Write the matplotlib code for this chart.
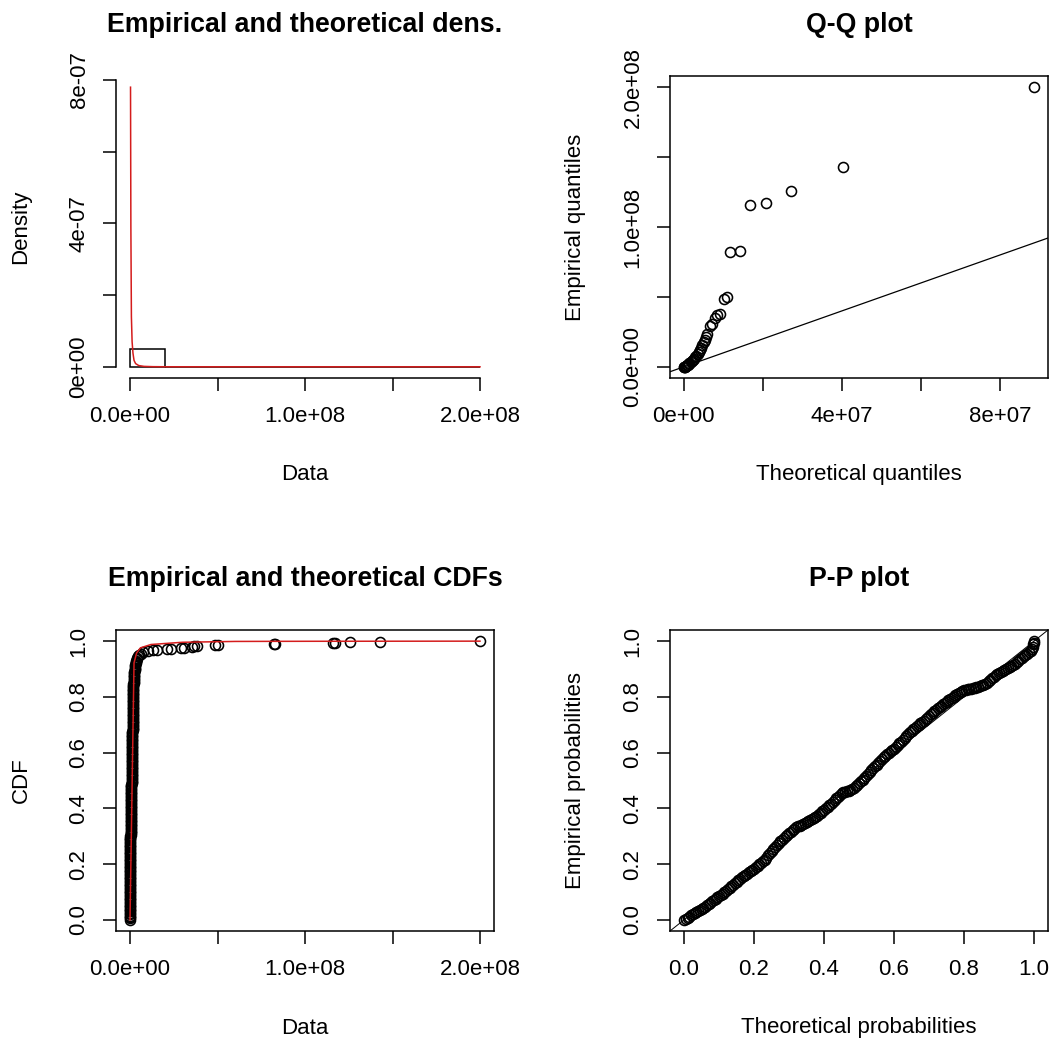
import numpy as np
import matplotlib
matplotlib.use("Agg")
import matplotlib.pyplot as plt

plt.rcParams['font.family'] = ['Liberation Sans', 'DejaVu Sans']

# ---------------- data ----------------
# histogram (density scale), bins of 2e7
hist_edges = [0, 2e7, 4e7, 6e7, 8e7, 1e8, 1.2e8, 1.4e8, 1.6e8, 1.8e8, 2e8]
hist_density = [4.85e-8, 6.7e-10, 1.9e-10, 0.0, 1.9e-10, 1.9e-10, 9.6e-11, 9.6e-11, 0.0, 9.6e-11]

# fitted density (red curve)
dens_x = [3e5, 5e5, 8e5, 1.2e6, 1.7e6, 2.3e6, 3.2e6, 5.0e6, 8e6, 1.3e7, 2e7, 5e7, 1e8, 2e8]
dens_y = [7.8e-7, 3.9e-7, 1.4e-7, 7e-8, 3.8e-8, 1.8e-8, 9e-9, 3.5e-9, 1.2e-9, 4e-10,
          1.5e-10, 2e-11, 3e-12, 5e-13]

# Q-Q plot: theoretical vs empirical quantiles
qq_theo = [8.86e7, 4.02e7, 2.72e7, 2.07e7, 1.67e7, 1.41e7, 1.18e7, 1.10e7, 1.01e7,
           0.91e7, 0.84e7, 0.78e7, 0.72e7, 0.66e7, 0.59e7, 0.57e7,
           0.53e7, 0.50e7, 0.47e7, 0.44e7, 0.41e7, 0.38e7, 0.35e7, 0.32e7, 0.29e7,
           0.26e7, 0.23e7, 0.20e7, 0.17e7, 0.14e7, 0.12e7, 0.10e7, 0.08e7, 0.06e7,
           0.045e7, 0.03e7, 0.02e7, 0.01e7, 0.005e7]
qq_emp = [2.0e8, 1.426e8, 1.258e8, 1.170e8, 1.158e8, 0.830e8, 0.823e8, 0.500e8, 0.488e8,
          0.380e8, 0.368e8, 0.352e8, 0.309e8, 0.289e8, 0.237e8, 0.213e8,
          0.19e8, 0.175e8, 0.155e8, 0.135e8, 0.12e8, 0.105e8, 0.092e8, 0.08e8, 0.068e8,
          0.058e8, 0.048e8, 0.04e8, 0.032e8, 0.025e8, 0.019e8, 0.014e8, 0.010e8, 0.006e8,
          0.004e8, 0.002e8, 0.001e8, 0.0005e8, 0.0002e8]

# empirical CDF points (x in millions)
ecdf_x_mln = [0.00, 0.01, 0.02, 0.02, 0.03, 0.04, 0.05, 0.05, 0.06, 0.07,
              0.08, 0.09, 0.10, 0.11, 0.12, 0.12, 0.13, 0.14, 0.16, 0.17,
              0.18, 0.19, 0.20, 0.21, 0.22, 0.23, 0.24, 0.25, 0.26, 0.27,
              0.28, 0.30, 0.33, 0.36, 0.40, 0.44, 0.48, 0.51, 0.54, 0.57,
              0.60, 0.63, 0.66, 0.69, 0.72, 0.75, 0.78, 0.81, 0.84, 0.87,
              0.90, 0.93, 0.96, 0.99, 1.02, 1.05, 1.08, 1.11, 1.14, 1.17,
              1.20, 1.23, 1.26, 1.29, 1.32, 1.35, 1.38, 1.41, 1.44, 1.47,
              1.50, 1.53, 1.56, 1.59, 1.62, 1.65, 1.68, 1.71, 1.74, 1.77,
              1.80, 1.84, 1.88, 1.92, 1.96, 2.00, 2.10, 2.20, 2.35, 2.50,
              2.70, 2.90, 3.20, 3.60, 4.20, 5.00, 6.0, 7.2,
              10.5, 12.9, 15.3, 21.3, 23.7, 28.9, 30.9, 35.2, 36.8, 38.0,
              48.8, 50.0, 82.3, 83.0, 115.8, 117.0, 125.8, 142.6, 200.0,
              # points between the ones above
              0.005, 0.015, 0.02, 0.025, 0.035, 0.045, 0.05, 0.055, 0.065, 0.075,
              0.085, 0.095, 0.105, 0.115, 0.12, 0.125, 0.135, 0.15, 0.165, 0.175,
              0.185, 0.195, 0.205, 0.215, 0.225, 0.235, 0.245, 0.255, 0.265, 0.275,
              0.29, 0.315, 0.345, 0.38, 0.42, 0.46, 0.495, 0.525, 0.555, 0.585,
              0.615, 0.645, 0.675, 0.705, 0.735, 0.765, 0.795, 0.825, 0.855, 0.885,
              0.915, 0.945, 0.975, 1.005, 1.035, 1.065, 1.095, 1.125, 1.155, 1.185,
              1.215, 1.245, 1.275, 1.305, 1.335, 1.365, 1.395, 1.425, 1.455, 1.485,
              1.515, 1.545, 1.575, 1.605, 1.635, 1.665, 1.695, 1.725, 1.755, 1.785,
              1.82, 1.86, 1.90, 1.94, 1.98, 2.05, 2.15, 2.28, 2.42, 2.60,
              2.80, 3.05, 3.40, 3.90, 4.60]
ecdf_p = [0.00, 0.01, 0.02, 0.03, 0.04, 0.05, 0.06, 0.07, 0.08, 0.09,
          0.10, 0.11, 0.12, 0.13, 0.14, 0.15, 0.16, 0.17, 0.18, 0.19,
          0.20, 0.21, 0.22, 0.23, 0.24, 0.25, 0.26, 0.27, 0.28, 0.29,
          0.30, 0.31, 0.32, 0.33, 0.34, 0.35, 0.36, 0.37, 0.38, 0.39,
          0.40, 0.41, 0.42, 0.43, 0.44, 0.45, 0.46, 0.47, 0.48, 0.49,
          0.50, 0.51, 0.52, 0.53, 0.54, 0.55, 0.56, 0.57, 0.58, 0.59,
          0.60, 0.61, 0.62, 0.63, 0.64, 0.65, 0.66, 0.67, 0.68, 0.69,
          0.70, 0.71, 0.72, 0.73, 0.74, 0.75, 0.76, 0.77, 0.78, 0.79,
          0.80, 0.81, 0.82, 0.83, 0.84, 0.85, 0.86, 0.87, 0.88, 0.89,
          0.90, 0.91, 0.92, 0.93, 0.94, 0.95, 0.955, 0.96,
          0.965, 0.967, 0.969, 0.971, 0.973, 0.975, 0.977, 0.979, 0.981, 0.983,
          0.985, 0.987, 0.988, 0.990, 0.992, 0.994, 0.996, 0.998, 1.000,
          0.005, 0.015, 0.025, 0.035, 0.045, 0.055, 0.065, 0.075, 0.085, 0.095,
          0.105, 0.115, 0.125, 0.135, 0.145, 0.155, 0.165, 0.175, 0.185, 0.195,
          0.205, 0.215, 0.225, 0.235, 0.245, 0.255, 0.265, 0.275, 0.285, 0.295,
          0.305, 0.315, 0.325, 0.335, 0.345, 0.355, 0.365, 0.375, 0.385, 0.395,
          0.405, 0.415, 0.425, 0.435, 0.445, 0.455, 0.465, 0.475, 0.485, 0.495,
          0.505, 0.515, 0.525, 0.535, 0.545, 0.555, 0.565, 0.575, 0.585, 0.595,
          0.605, 0.615, 0.625, 0.635, 0.645, 0.655, 0.665, 0.675, 0.685, 0.695,
          0.705, 0.715, 0.725, 0.735, 0.745, 0.755, 0.765, 0.775, 0.785, 0.795,
          0.805, 0.815, 0.825, 0.835, 0.845, 0.855, 0.865, 0.875, 0.885, 0.895,
          0.905, 0.915, 0.925, 0.935, 0.945]

# fitted CDF (red curve)
cdf_fit_x = [0, 2.3e6, 3.8e6, 6e6, 1.2e7, 3e7, 6e7, 1e8, 2e8]
cdf_fit_p = [0.0, 0.922, 0.958, 0.976, 0.988, 0.996, 0.999, 0.9995, 1.0]

# P-P plot
pp_theo = [0.00, 0.01, 0.02, 0.03, 0.04, 0.05, 0.06, 0.07, 0.08, 0.09,
           0.10, 0.11, 0.12, 0.13, 0.14, 0.15, 0.16, 0.17, 0.18, 0.19,
           0.20, 0.21, 0.22, 0.23, 0.24, 0.25, 0.26, 0.27, 0.28, 0.29,
           0.30, 0.31, 0.32, 0.33, 0.34, 0.35, 0.36, 0.37, 0.38, 0.39,
           0.40, 0.41, 0.42, 0.43, 0.44, 0.45, 0.46, 0.47, 0.48, 0.49,
           0.50, 0.51, 0.52, 0.53, 0.54, 0.55, 0.56, 0.57, 0.58, 0.59,
           0.60, 0.61, 0.62, 0.63, 0.64, 0.65, 0.66, 0.67, 0.68, 0.69,
           0.70, 0.71, 0.72, 0.73, 0.74, 0.75, 0.76, 0.77, 0.78, 0.79,
           0.80, 0.81, 0.82, 0.83, 0.84, 0.85, 0.86, 0.87, 0.88, 0.89,
           0.90, 0.91, 0.92, 0.93, 0.94, 0.95, 0.96, 0.97, 0.98, 0.99,
           0.995, 0.997, 0.998, 0.999, 1.0,
           0.005, 0.015, 0.025, 0.035, 0.045, 0.055, 0.065, 0.075, 0.085, 0.095,
           0.105, 0.115, 0.125, 0.135, 0.145, 0.155, 0.165, 0.175, 0.185, 0.195,
           0.205, 0.215, 0.225, 0.235, 0.245, 0.255, 0.265, 0.275, 0.285, 0.295,
           0.305, 0.315, 0.325, 0.335, 0.345, 0.355, 0.365, 0.375, 0.385, 0.395,
           0.405, 0.415, 0.425, 0.435, 0.445, 0.455, 0.465, 0.475, 0.485, 0.495,
           0.505, 0.515, 0.525, 0.535, 0.545, 0.555, 0.565, 0.575, 0.585, 0.595,
           0.605, 0.615, 0.625, 0.635, 0.645, 0.655, 0.665, 0.675, 0.685, 0.695,
           0.705, 0.715, 0.725, 0.735, 0.745, 0.755, 0.765, 0.775, 0.785, 0.795,
           0.805, 0.815, 0.825, 0.835, 0.845, 0.855, 0.865, 0.875, 0.885, 0.895,
           0.905, 0.915, 0.925, 0.935, 0.945, 0.955, 0.965, 0.975, 0.985]
pp_emp = [0.000, 0.008, 0.016, 0.024, 0.032, 0.040, 0.047, 0.057, 0.066, 0.076,
          0.085, 0.094, 0.104, 0.115, 0.126, 0.137, 0.148, 0.156, 0.165, 0.174,
          0.183, 0.193, 0.204, 0.215, 0.231, 0.246, 0.262, 0.275, 0.288, 0.300,
          0.311, 0.322, 0.332, 0.338, 0.344, 0.350, 0.358, 0.366, 0.374, 0.384,
          0.395, 0.406, 0.417, 0.429, 0.442, 0.455, 0.460, 0.463, 0.468, 0.479,
          0.491, 0.503, 0.516, 0.530, 0.544, 0.557, 0.570, 0.583, 0.595, 0.605,
          0.614, 0.626, 0.639, 0.653, 0.666, 0.679, 0.689, 0.700, 0.710, 0.720,
          0.731, 0.742, 0.753, 0.764, 0.774, 0.783, 0.792, 0.801, 0.809, 0.817,
          0.824, 0.828, 0.830, 0.832, 0.836, 0.841, 0.846, 0.856, 0.866, 0.877,
          0.886, 0.893, 0.900, 0.906, 0.914, 0.924, 0.935, 0.945, 0.955, 0.965,
          0.972, 0.980, 0.988, 0.994, 1.000,
          0.004, 0.012, 0.020, 0.028, 0.036, 0.044, 0.052, 0.062, 0.071, 0.081,
          0.090, 0.099, 0.110, 0.121, 0.132, 0.143, 0.152, 0.161, 0.170, 0.179,
          0.188, 0.199, 0.210, 0.223, 0.239, 0.254, 0.269, 0.282, 0.294, 0.306,
          0.317, 0.327, 0.335, 0.341, 0.347, 0.354, 0.362, 0.370, 0.379, 0.390,
          0.401, 0.412, 0.423, 0.436, 0.449, 0.458, 0.462, 0.466, 0.474, 0.485,
          0.497, 0.510, 0.523, 0.537, 0.551, 0.564, 0.577, 0.589, 0.600, 0.610,
          0.620, 0.633, 0.646, 0.660, 0.673, 0.684, 0.695, 0.705, 0.715, 0.726,
          0.737, 0.748, 0.759, 0.769, 0.779, 0.788, 0.797, 0.805, 0.813, 0.821,
          0.826, 0.829, 0.831, 0.834, 0.839, 0.844, 0.851, 0.861, 0.872, 0.882,
          0.890, 0.897, 0.903, 0.910, 0.919, 0.930, 0.940, 0.950, 0.960]

# ticks
data_ticks = [0, 5e7, 1e8, 1.5e8, 2e8]
data_ticklabels = ['0.0e+00', '', '1.0e+08', '', '2.0e+08']
dens_ticks = [0, 2e-7, 4e-7, 6e-7, 8e-7]
dens_ticklabels = ['0e+00', '', '4e-07', '', '8e-07']
qq_xticks = [0, 2e7, 4e7, 6e7, 8e7]
qq_xticklabels = ['0e+00', '', '4e+07', '', '8e+07']
prob_ticks = [0, 0.2, 0.4, 0.6, 0.8, 1.0]
prob_ticklabels = ['0.0', '0.2', '0.4', '0.6', '0.8', '1.0']

# ---------------- layout ----------------
W, H = 1061, 1045
FS = 16
RED = '#d41c1c'


def pos(l, r, t, b):
    return [l / W, 1 - b / H, (r - l) / W, (b - t) / H]


def r_lim(vals):
    lo, hi = min(vals), max(vals)
    pad = 0.04 * (hi - lo)
    return lo - pad, hi + pad


def style(ax, title, xlabel, ylabel, xt, xtl, yt, ytl):
    ax.set_xticks(xt, xtl)
    ax.set_yticks(yt, ytl, rotation=90, va='center')
    ax.tick_params(axis='both', direction='out', length=9.5, width=1.1,
                   labelsize=FS, colors='black')
    ax.tick_params(axis='x', pad=11)
    ax.tick_params(axis='y', pad=9.5)
    for s in ax.spines.values():
        s.set_linewidth(1.1)
    ax.set_title(title, fontsize=19.3, fontweight='bold', pad=31.5)
    ax.set_xlabel(xlabel, fontsize=FS, va='center')
    ax.set_ylabel(ylabel, fontsize=FS, va='center')
    bb = ax.get_position()
    ax.xaxis.set_label_coords(0.5, -97 / (bb.height * H))
    ax.yaxis.set_label_coords(-95 / (bb.width * W), 0.5)


fig = plt.figure(figsize=(W / 100, H / 100), dpi=100)
circ = dict(ls='none', marker='o', mfc='none', mec='black', ms=7.2, mew=1.15)

# 1. density
ax1 = fig.add_axes(pos(116, 494, 76, 378))
ax1.bar(hist_edges[:-1], hist_density, width=np.diff(hist_edges), align='edge',
        fill=False, edgecolor='black', linewidth=1.1)
ax1.plot(dens_x, dens_y, color=RED, lw=1.1)
ax1.set_xlim(r_lim(hist_edges))
ax1.set_ylim(r_lim([0] + dens_y))
style(ax1, 'Empirical and theoretical dens.', 'Data', 'Density',
      data_ticks, data_ticklabels, dens_ticks, dens_ticklabels)
ax1.spines['top'].set_visible(False)
ax1.spines['right'].set_visible(False)
ax1.spines['left'].set_bounds(dens_ticks[0], dens_ticks[-1])
ax1.spines['bottom'].set_bounds(data_ticks[0], data_ticks[-1])

# 2. Q-Q
ax2 = fig.add_axes(pos(670, 1048, 76, 378))
ax2.plot(qq_theo, qq_emp, **circ)
ax2.axline((0, 0), slope=1, color='black', lw=0.9)
ax2.set_xlim(r_lim(qq_theo))
ax2.set_ylim(r_lim(qq_emp))
style(ax2, 'Q-Q plot', 'Theoretical quantiles', 'Empirical quantiles',
      qq_xticks, qq_xticklabels, data_ticks, data_ticklabels)

# 3. CDF
ax3 = fig.add_axes(pos(116, 494, 630, 931))
ecdf_x = np.array(ecdf_x_mln) * 1e6
ax3.plot(ecdf_x, ecdf_p, **circ)
ax3.plot(cdf_fit_x, cdf_fit_p, color=RED, lw=1.1)
ax3.set_xlim(r_lim(ecdf_x))
ax3.set_ylim(r_lim(ecdf_p))
style(ax3, 'Empirical and theoretical CDFs', 'Data', 'CDF',
      data_ticks, data_ticklabels, prob_ticks, prob_ticklabels)

# 4. P-P
ax4 = fig.add_axes(pos(670, 1048, 630, 931))
ax4.plot(pp_theo, pp_emp, **circ)
ax4.axline((0, 0), slope=1, color='black', lw=0.7)
ax4.set_xlim(r_lim(pp_theo))
ax4.set_ylim(r_lim(pp_emp))
style(ax4, 'P-P plot', 'Theoretical probabilities', 'Empirical probabilities',
      prob_ticks, prob_ticklabels, prob_ticks, prob_ticklabels)

fig.savefig('out.png', dpi=100, facecolor='white')
